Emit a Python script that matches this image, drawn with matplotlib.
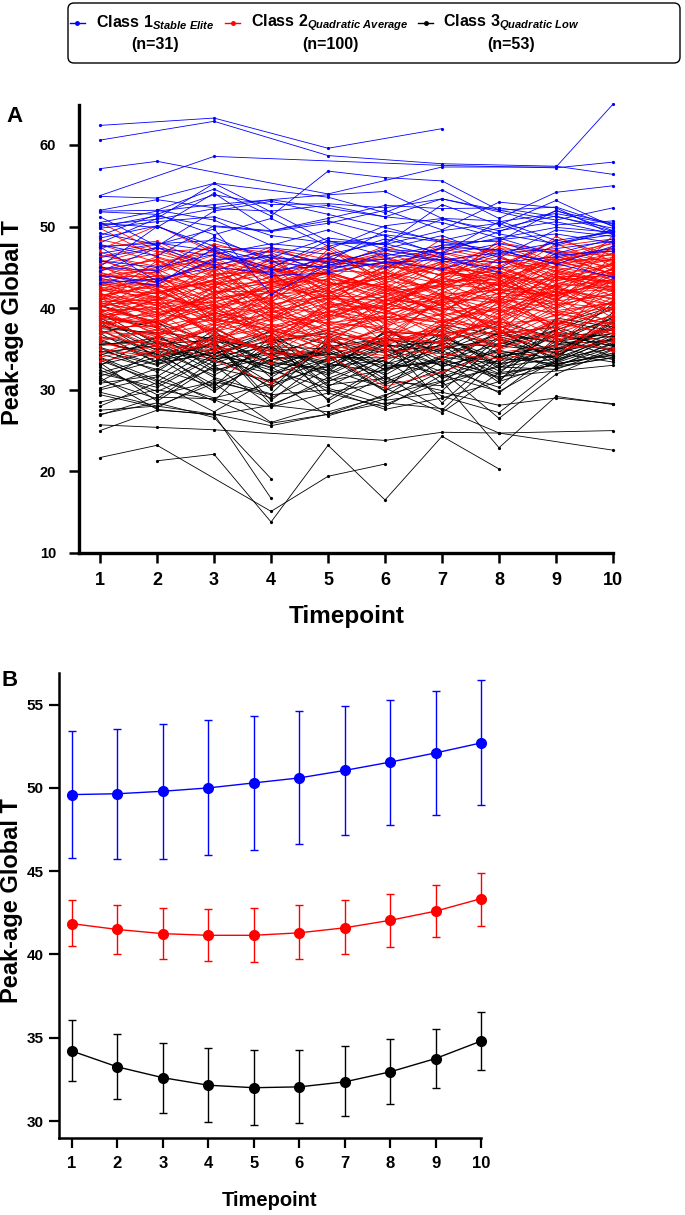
import numpy as np
import matplotlib
matplotlib.use('Agg')
import matplotlib.pyplot as plt
from matplotlib import font_manager
from matplotlib.lines import Line2D
from matplotlib.patches import FancyBboxPatch

# ---- data ----
timepoints = np.arange(1, 11)
class_names = ['Class 1', 'Class 2', 'Class 3']
class_tags = ['Stable\\ Elite', 'Quadratic\\ Average', 'Quadratic\\ Low']
class_n = [31, 100, 53]
class_colors = ['#0000ff', '#ff0000', '#000000']

# individual trajectories (None = missed visit)
class1_subjects = [
    [62.4, None, 63.3, None, 59.6, None, 62.0, None, None, None],
    [60.6, None, 62.9, None, 58.7, None, 57.7, None, 57.4, 56.4],
    [57.1, 58.0, None, None, 54.0, None, 57.3, None, 57.3, 65.0],
    [53.8, None, 58.6, None, None, None, 57.5, None, 57.2, 57.9],
    [53.7, 53.5, 55.3, None, 53.6, 51.7, 54.5, 51.0, 54.2, 55.0],
    [51.9, 52.0, 54.6, 51.3, 56.8, 56.0, 55.6, 52.0, 50.8, 52.3],
    [51.8, 51.5, 53.9, 52.7, 52.8, 52.3, 53.4, 52.0, 52.4, 50.1],
    [50.5, 51.9, 52.7, 53.3, 53.9, 54.3, 51.0, 49.1, 47.9, 49.6],
    [50.2, 50.9, 52.2, 51.9, 52.6, 51.2, 50.5, 48.6, 49.9, 49.3],
    [50.0, 51.3, 50.0, 49.4, 50.4, 52.0, 49.6, 53.0, 52.3, 49.0],
    [49.8, 50.6, 51.2, 48.9, 48.0, 47.8, 49.5, 50.4, 47.7, 49.5],
    [49.2, 47.8, 49.7, 41.7, 45.3, 46.0, None, 48.6, 46.5, 47.0],
    [48.9, 51.5, 49.0, 51.0, 47.6, 49.0, 48.1, 47.1, None, 43.8],
    [48.6, 50.1, 47.1, 47.4, 46.6, 48.1, 50.9, 49.5, 50.6, 49.1],
    [47.8, 46.4, 50.1, 49.5, 50.7, 48.9, 46.5, 47.9, 46.7, 48.5],
    [47.5, 48.0, 47.0, 44.9, 48.3, 46.4, 47.7, 48.4, 49.1, 48.0],
    [47.5, 43.3, 45.8, 47.0, 45.5, 47.1, 45.9, 46.8, 48.0, 49.0],
    [46.7, 47.9, 48.3, 46.2, 45.7, 49.5, 48.3, None, 51.3, 49.4],
    [46.2, 47.4, 46.4, 44.7, 45.2, 47.3, 48.9, 46.2, 49.6, 48.8],
    [45.8, 45.0, 46.6, 47.9, 47.2, 50.1, 51.0, 50.7, 48.3, None],
    [45.0, 44.6, 48.7, 45.7, 46.1, 45.0, 47.5, 47.1, 45.4, 47.6],
    [44.5, 47.4, 45.3, 46.5, 44.6, 46.7, 45.8, 44.9, 48.3, 49.3],
    [44.0, 43.2, 46.0, 46.2, 48.6, 47.8, 52.7, 50.2, 53.2, 50.0],
    [43.1, 43.6, 45.0, 44.3, 46.2, 48.5, 46.7, 49.4, 51.9, 50.4],
    [43.6, 42.8, 47.4, 45.6, 45.0, None, 46.0, 45.6, 46.3, 47.3],
    [52.0, 53.3, 52.3, 53.3, None, 51.2, 53.4, None, 50.2, 50.7],
    [50.4, 49.9, 54.1, 49.5, 51.0, 52.6, 52.2, 52.3, 51.2, 49.8],
    [48.0, 51.0, 55.3, 51.8, 48.2, 47.9, 46.2, 44.4, None, None],
    [45.1, 50.0, 47.6, 44.0, 44.3, 45.7, 44.8, 46.7, 47.3, 48.2],
    [None, 52.0, 50.8, 47.7, 49.6, 47.2, 46.8, 50.6, 51.6, 50.3],
    [51.2, 47.6, 51.9, 53.1, 51.5, 49.9, 48.1, 48.2, 52.0, 49.5],
]

class2_subjects = [
    [50.5, 47.0, 45.2, 44.1, 46.3, 43.8, 45.0, 44.2, 46.1, 47.4],
    [49.8, 46.2, 43.9, 45.5, 42.7, 44.9, 47.3, 45.8, 44.6, 46.0],
    [47.2, 50.1, 46.8, 44.0, 45.6, 46.4, 43.9, 47.7, 45.3, 48.1],
    [46.5, 45.1, 47.6, 46.8, 44.2, 42.5, 45.8, 43.6, 47.9, 45.2],
    [45.8, 44.0, 42.6, 47.3, 46.0, 45.2, 44.1, 46.5, 43.0, 44.7],
    [45.4, 46.7, 44.9, 42.8, 43.5, 47.1, 46.2, 44.8, 46.6, 47.9],
    [45.0, 43.2, 45.7, 44.4, 47.5, 43.3, 42.6, 45.1, 48.4, 46.5],
    [44.7, 45.9, 43.1, 45.9, 41.8, 44.6, 47.8, 46.9, 45.0, 43.9],
    [44.3, 42.4, 46.2, 43.0, 45.3, 46.8, 44.5, 42.9, 44.2, 46.8],
    [44.0, 44.8, 41.5, 46.2, 44.0, 41.9, 45.6, 47.3, 46.9, 45.6],
    [43.8, 46.3, 44.4, 41.6, 46.8, 45.5, 43.2, 44.0, 42.7, 44.4],
    [43.5, 41.7, 43.5, 45.1, 42.9, 43.6, 46.9, 45.5, 47.6, 48.5],
    [43.2, 44.5, 47.1, 43.7, 41.4, 44.0, 42.2, 46.1, 44.9, 43.1],
    [43.0, 42.9, 40.8, 42.5, 44.8, 46.1, 44.7, 43.3, 45.8, 47.2],
    [42.8, 45.4, 42.9, 44.7, 43.3, 40.9, 43.8, 44.6, 41.9, 42.3],
    [42.6, 40.9, 44.1, 40.7, 45.9, 42.8, 41.1, 42.4, 46.3, 45.0],
    [42.4, 43.6, 39.7, 43.5, 40.6, 45.3, 46.5, 43.9, 43.4, 44.1],
    [42.2, 41.3, 45.3, 39.8, 43.7, 41.7, 42.9, 48.3, 45.5, 46.2],
    [42.0, 44.1, 42.0, 42.1, 39.9, 43.1, 40.4, 41.8, 44.0, 41.5],
    [41.8, 39.8, 43.6, 44.9, 42.2, 39.8, 44.3, 45.0, 42.6, 43.5],
    [41.6, 42.7, 40.3, 41.2, 44.5, 42.2, 39.6, 43.4, 41.3, 44.9],
    [41.5, 38.9, 41.8, 43.3, 41.0, 44.4, 43.0, 40.7, 43.8, 42.0],
    [41.3, 43.0, 44.8, 40.2, 42.6, 40.5, 41.9, 44.3, 40.8, 46.3],
    [41.1, 40.4, 38.6, 42.3, 38.8, 41.6, 45.2, 42.1, 44.7, 43.0],
    [41.0, 45.8, 42.3, 38.9, 41.9, 43.9, 40.2, 39.6, 42.3, 41.1],
    [40.8, 41.0, 43.0, 44.2, 40.3, 38.7, 42.4, 43.7, 45.7, 44.3],
    [40.6, 39.5, 40.0, 41.4, 43.0, 42.9, 38.9, 41.2, 39.9, 42.8],
    [40.5, 42.2, 39.1, 37.8, 39.5, 40.2, 43.6, 42.8, 41.6, 40.4],
    [40.3, 37.8, 42.7, 40.5, 41.5, 41.3, 40.0, 38.9, 43.5, 45.4],
    [40.2, 41.5, 37.9, 39.3, 37.4, 39.6, 41.4, 40.6, 42.0, 39.7],
    [40.0, 43.8, 41.1, 42.6, 43.9, 37.9, 39.3, 44.6, 38.9, 43.7],
    [39.9, 38.4, 40.5, 36.9, 40.0, 42.0, 37.8, 41.5, 40.4, 41.8],
    [39.7, 40.1, 36.8, 41.8, 38.5, 40.8, 42.7, 37.9, 42.8, 38.8],
    [39.6, 36.9, 39.4, 38.4, 42.3, 36.8, 40.8, 43.1, 41.1, 44.0],
    [39.4, 42.5, 38.2, 40.0, 36.6, 41.1, 38.3, 39.9, 37.8, 40.9],
    [39.3, 39.0, 41.9, 35.8, 39.2, 38.4, 41.8, 36.8, 43.9, 42.5],
    [39.1, 37.3, 35.9, 38.7, 41.1, 35.7, 37.2, 40.2, 39.5, 37.9],
    [39.0, 40.8, 38.8, 37.2, 35.8, 40.0, 39.8, 42.4, 36.9, 39.2],
    [38.8, 35.9, 37.4, 39.6, 38.1, 37.6, 36.5, 38.4, 40.9, 41.6],
    [38.7, 38.2, 40.2, 36.3, 37.0, 39.2, 41.0, 35.9, 38.3, 36.8],
    [38.5, 41.2, 36.6, 34.9, 39.8, 36.9, 35.7, 39.4, 41.7, 43.2],
    [38.3, 36.5, 39.8, 37.9, 34.7, 38.0, 40.5, 37.3, 36.5, 38.4],
    [38.1, 39.6, 35.3, 40.8, 37.7, 35.4, 38.1, 41.3, 39.1, 40.1],
    [37.9, 35.2, 38.0, 36.0, 40.5, 39.9, 36.3, 38.8, 35.9, 37.4],
    [37.7, 37.8, 34.6, 38.1, 36.2, 36.3, 39.4, 36.4, 40.2, 42.2],
    [37.5, 40.0, 37.0, 34.3, 38.4, 37.3, 34.9, 40.9, 37.4, 39.0],
    [37.3, 34.6, 36.2, 39.2, 35.3, 34.9, 37.9, 35.5, 38.7, 36.3],
    [37.0, 36.8, 38.9, 35.5, 37.4, 38.8, 40.1, 37.8, 35.6, 41.0],
    [36.8, 38.7, 35.0, 37.5, 34.8, 36.4, 35.8, 39.0, 41.2, 38.0],
    [36.5, 35.5, 37.7, 33.9, 36.7, 34.5, 38.6, 34.9, 37.1, 35.8],
    [36.2, 37.4, 34.1, 36.6, 39.3, 37.6, 33.8, 36.7, 39.7, 40.6],
    [35.8, 34.1, 36.5, 34.7, 33.9, 35.9, 36.8, 38.1, 36.2, 37.5],
    [35.4, 36.0, 33.6, 30.8, 35.6, 33.8, 35.3, 35.7, 38.2, 36.9],
    [35.0, 34.0, 35.8, 37.0, 34.2, 30.4, 32.2, 34.6, 35.4, 35.1],
    [34.5, 36.6, 35.2, 33.3, 36.0, 35.0, 34.4, 33.8, 34.8, 36.0],
    [34.0, 35.4, 34.8, 35.9, 33.5, 36.6, 37.4, 35.2, 36.8, 34.7],
    [33.5, 34.8, 37.6, 34.1, 35.0, 34.2, 36.1, 37.2, 34.2, 38.6],
    [46.0, 43.4, 45.5, 42.3, 44.6, 44.3, 41.3, 43.0, 45.2, 46.7],
    [45.6, 47.5, 44.0, 46.0, 42.0, 45.8, 44.0, 45.9, 43.3, 45.3],
    [45.2, 42.0, 43.3, 41.0, 47.2, 43.0, 46.4, 42.2, 46.8, 44.0],
    [44.9, 44.3, 46.5, 44.9, 43.2, 41.4, 43.5, 47.4, 44.4, 42.9],
    [44.6, 46.0, 41.9, 43.8, 45.1, 46.3, 42.8, 44.4, 41.4, 47.7],
    [44.2, 41.0, 44.6, 46.6, 40.9, 43.4, 45.4, 41.6, 46.0, 45.9],
    [43.9, 43.9, 40.4, 42.0, 44.4, 42.4, 40.8, 46.2, 43.7, 43.3],
    [43.6, 45.0, 45.9, 40.3, 42.5, 45.0, 44.9, 42.7, 47.2, 44.6],
    [43.3, 40.3, 42.4, 45.3, 39.7, 40.4, 43.1, 45.3, 42.2, 48.9],
    [43.0, 42.3, 39.3, 43.1, 46.2, 44.8, 41.6, 39.7, 44.6, 42.6],
    [42.7, 44.0, 43.8, 39.5, 41.3, 39.3, 44.4, 43.8, 40.3, 44.5],
    [42.5, 39.4, 41.3, 41.9, 43.6, 42.6, 39.1, 41.0, 45.1, 46.0],
    [42.3, 41.8, 44.2, 44.5, 38.9, 41.0, 42.9, 44.9, 42.4, 41.2],
    [42.1, 43.2, 38.5, 40.9, 42.8, 43.7, 45.7, 40.4, 43.9, 43.8],
    [41.9, 38.6, 42.8, 38.3, 40.7, 38.2, 40.6, 42.9, 41.0, 45.0],
    [41.7, 40.6, 40.7, 42.9, 44.2, 40.7, 38.4, 40.1, 44.3, 42.1],
    [41.5, 42.9, 39.0, 40.1, 39.4, 42.3, 43.3, 43.5, 39.4, 40.7],
    [41.3, 37.6, 41.6, 43.9, 41.7, 44.5, 41.5, 38.6, 42.9, 44.8],
    [41.1, 41.9, 43.4, 39.0, 38.2, 39.0, 37.6, 42.0, 40.7, 39.9],
    [40.9, 44.6, 38.3, 41.7, 42.1, 37.5, 42.0, 40.8, 46.1, 43.4],
    [40.7, 39.2, 40.9, 37.4, 40.2, 41.9, 39.5, 38.2, 38.6, 41.9],
    [40.5, 40.7, 37.3, 42.4, 37.9, 40.3, 43.8, 41.7, 42.5, 40.3],
    [40.3, 38.1, 42.1, 38.5, 43.4, 38.6, 38.7, 37.4, 41.8, 45.6],
    [40.1, 42.0, 39.6, 36.4, 39.0, 42.7, 40.3, 44.2, 39.7, 38.5],
    [39.9, 36.7, 38.1, 40.4, 36.9, 36.2, 41.2, 39.3, 43.0, 42.4],
    [39.7, 39.9, 41.4, 39.9, 41.6, 39.7, 37.0, 36.9, 37.6, 40.0],
    [39.5, 41.4, 36.3, 37.7, 38.6, 41.5, 39.7, 42.5, 40.0, 44.2],
    [39.2, 37.7, 39.2, 41.0, 35.9, 37.2, 36.7, 38.5, 42.1, 39.4],
    [39.0, 38.0, 40.3, 35.6, 40.8, 39.4, 38.2, 40.5, 38.0, 41.3],
    [38.7, 40.4, 37.1, 38.9, 37.2, 35.6, 41.6, 37.0, 40.6, 37.2],
    [38.4, 36.2, 39.5, 37.1, 39.6, 38.6, 35.4, 39.8, 36.4, 43.6],
    [38.1, 38.6, 35.6, 39.9, 35.5, 40.6, 39.0, 36.1, 39.3, 38.1],
    [37.8, 39.3, 38.4, 36.2, 38.0, 36.0, 37.3, 41.1, 37.9, 40.8],
    [47.8, 45.6, 46.9, 45.0, 47.7, 44.1, 48.5, 46.6, 45.9, 47.0],
    [47.5, 48.2, 45.0, 47.5, 44.9, 47.6, 45.5, 43.7, 48.8, 45.7],
    [46.9, 44.4, 47.9, 46.1, 45.8, 46.0, 44.6, 48.0, 47.0, 46.4],
    [48.4, 46.9, 47.3, 43.4, 46.6, 45.6, 46.8, 44.9, 45.6, 48.3],
    [46.3, 47.8, 44.5, 47.2, 45.4, 43.6, 47.5, 46.3, 44.0, 45.5],
    [None, 43.7, 42.0, None, 44.3, 42.1, None, 43.2, 46.4, 44.2],
    [42.9, None, 39.9, 42.7, None, 40.0, 41.7, None, 42.7, 40.6],
    [38.9, 41.1, None, 39.4, 41.2, None, 40.7, 41.4, None, 42.7],
    [36.0, None, 38.6, None, 36.4, 38.9, None, 37.6, 39.1, None],
    [44.4, 42.6, None, 43.2, None, 45.7, 43.0, None, 41.5, 43.6],
]

class3_subjects = [
    [21.7, 23.2, None, 15.1, 19.4, 20.9, None, None, None, None],
    [None, 21.3, 22.1, 13.8, 23.2, 16.5, 24.3, 20.3, None, None],
    [25.7, 25.4, 25.1, None, None, 23.8, 24.8, 24.7, None, 25.0],
    [25.0, 27.5, 27.0, 16.7, None, None, None, None, None, None],
    [27.0, 28.4, 26.6, 19.1, None, None, None, None, None, None],
    [28.5, 30.0, 28.8, 25.9, 27.0, 29.4, 31.1, 22.9, 29.2, 28.2],
    [29.7, 28.0, 27.0, 25.6, None, 28.4, 27.7, 24.7, None, 22.6],
    [31.5, 27.6, 26.9, 28.1, 27.3, 29.2, 33.6, 31.9, 33.1, 34.5],
    [32.8, 29.4, 31.0, 29.4, 30.0, 27.6, 29.0, 31.0, 33.3, 35.6],
    [33.3, 28.6, 33.0, 28.0, 31.5, 28.7, 29.7, 28.1, 29.0, 28.3],
    [34.0, 31.2, 29.0, 30.7, 32.9, 33.6, 29.2, 27.2, 32.7, 34.0],
    [35.2, 33.1, 34.6, 32.4, 30.2, 28.2, 31.0, 32.8, 33.8, 35.1],
    [35.8, 34.4, 30.6, 33.8, 34.6, 32.9, 33.3, 31.5, 33.5, 36.2],
    [36.5, 35.0, 33.8, 34.5, 29.7, 30.9, 34.0, 33.2, 34.2, 37.0],
    [37.3, 34.2, 35.4, 31.9, 33.8, 34.8, 32.2, 34.9, 32.9, 33.9],
    [38.5, 36.0, 34.1, 35.3, 35.0, 31.8, 35.7, 32.3, 35.6, 36.6],
    [39.4, 35.6, 36.1, 33.2, 32.7, 35.6, 30.8, 36.3, 34.0, 38.2],
    [38.0, 34.8, 33.5, 36.3, 34.0, 33.9, 36.4, 33.8, 36.9, 35.3],
    [37.8, 36.8, 32.4, 34.0, 31.8, 35.0, 33.0, 37.2, 33.7, 39.5],
    [36.2, 33.5, 35.0, 30.8, 35.3, 36.3, 34.8, 32.0, 37.5, 34.7],
    [35.1, 32.2, 36.8, 34.9, 33.2, 32.1, 37.3, 35.4, 34.6, 36.0],
    [34.6, 35.4, 31.5, 29.5, 36.0, 34.5, 31.6, 34.1, 35.0, 37.8],
    [33.9, 30.6, 34.3, 32.8, 28.9, 33.1, 35.1, 36.2, 33.2, 34.2],
    [33.1, 34.7, 30.1, 33.7, 34.3, 29.9, 32.6, 30.3, 36.4, 38.7],
    [32.4, 29.8, 32.7, 31.1, 33.7, 36.0, 28.4, 34.5, 32.8, 35.8],
    [31.7, 33.6, 35.8, 28.2, 31.0, 34.1, 36.8, 32.6, 37.0, 36.5],
    [30.8, 31.8, 28.6, 35.8, 30.6, 31.4, 29.9, 35.8, 34.5, 33.4],
    [39.0, 37.6, 34.9, 37.1, 32.2, 37.2, 34.4, 33.4, 38.0, 40.2],
    [38.8, 35.2, 37.5, 34.2, 36.6, 33.0, 38.0, 36.7, 35.9, 36.9],
    [37.0, 38.4, 33.2, 35.7, 37.3, 35.3, 35.9, 37.9, 34.4, 39.0],
    [36.0, 34.0, 36.7, 33.0, 34.9, 37.7, 32.8, 35.0, 38.5, 37.2],
    [35.5, 36.3, 34.4, 36.7, 31.4, 34.0, 37.8, 34.4, 35.3, 40.6],
    [34.8, 33.0, 37.3, 31.5, 35.7, 30.6, 33.9, 36.9, 37.7, 35.5],
    [34.3, 35.8, 32.2, 35.0, 33.4, 36.9, 31.4, 33.6, 34.1, 38.4],
    [33.6, 31.0, 35.1, 30.1, 36.4, 32.4, 36.2, 31.2, 36.0, 34.8],
    [32.1, 34.0, 29.8, 34.3, 32.0, 35.5, 34.7, 37.5, 33.4, 36.3],
    [31.2, 28.9, 33.6, 32.0, 34.8, 31.0, 30.5, 33.0, 35.2, 33.7],
    [30.2, 32.6, 30.4, 36.5, 28.6, 32.7, 33.5, 29.6, 34.8, 37.4],
    [29.4, 27.8, 31.3, 29.0, 32.5, 30.2, 27.2, 32.1, 33.0, 35.2],
    [28.0, 30.9, 27.3, 31.4, 26.8, 28.9, 32.3, 26.5, 31.9, 34.9],
    [26.9, 29.1, 28.9, 27.9, 29.6, 27.9, 31.8, 29.8, 33.6, 36.7],
    [38.3, 33.9, 35.6, 32.6, 35.4, 32.5, 34.9, 38.4, 36.3, 34.1],
    [37.5, 37.0, 36.3, 34.7, 33.0, 36.4, 33.6, 35.6, 37.3, 39.9],
    [36.9, 33.3, 34.5, 36.0, 36.9, 34.7, 35.4, 34.0, 35.5, 36.1],
    [35.6, 35.9, 32.9, 34.4, 34.4, 33.4, 31.9, 36.5, 34.9, 37.6],
    [34.4, 32.5, 36.4, 33.4, 32.4, 37.1, 36.6, 33.1, 36.7, 35.4],
    [33.0, 36.5, 33.9, 37.3, 35.5, 31.3, 34.2, 37.0, 35.8, 38.9],
    [32.0, 30.3, 34.0, 30.4, 33.1, 35.8, 32.9, 34.7, 33.9, 36.4],
    [31.0, 34.8, 31.8, 35.4, 30.4, 33.7, 35.5, 30.9, 38.8, 37.7],
    [30.0, 31.6, 36.0, 28.7, 34.0, 29.8, 37.0, 32.8, 32.5, 35.0],
    [27.5, 28.0, 30.8, 26.0, 28.1, 31.7, 27.5, 33.9, 33.2, 34.3],
    [None, 35.1, None, 33.1, 31.1, None, 33.8, 31.6, None, 33.0],
    [40.4, None, 35.9, None, 34.3, 36.1, None, 35.3, 37.2, None],
]

# estimated class trajectories with error bars
class1_mean = [49.6, 49.65, 49.8, 50.0, 50.3, 50.6, 51.05, 51.55, 52.1, 52.7]
class1_upper = [53.4, 53.55, 53.85, 54.1, 54.3, 54.6, 54.9, 55.3, 55.8, 56.5]
class1_lower = [45.8, 45.75, 45.75, 45.95, 46.25, 46.65, 47.2, 47.8, 48.4, 48.95]
class2_mean = [41.85, 41.5, 41.25, 41.15, 41.15, 41.3, 41.6, 42.05, 42.6, 43.35]
class2_upper = [43.25, 42.95, 42.8, 42.75, 42.8, 43.0, 43.25, 43.65, 44.2, 44.9]
class2_lower = [40.5, 40.05, 39.75, 39.6, 39.55, 39.7, 40.0, 40.45, 41.05, 41.7]
class3_mean = [34.2, 33.25, 32.6, 32.15, 32.0, 32.05, 32.35, 32.95, 33.75, 34.8]
class3_upper = [36.05, 35.25, 34.7, 34.4, 34.25, 34.25, 34.5, 34.9, 35.5, 36.55]
class3_lower = [32.4, 31.3, 30.5, 29.95, 29.75, 29.9, 30.3, 31.05, 32.0, 33.05]

# ---- fonts ----
avail = {f.name for f in font_manager.fontManager.ttflist}
narrow = 'Liberation Sans Narrow' if 'Liberation Sans Narrow' in avail else 'Liberation Sans'
plt.rcParams['font.family'] = [narrow, 'DejaVu Sans']
plt.rcParams['font.weight'] = 'bold'
plt.rcParams['mathtext.fontset'] = 'custom'
plt.rcParams['mathtext.it'] = 'Liberation Sans:italic:bold'
plt.rcParams['mathtext.rm'] = 'Liberation Sans:bold'

W, H = 685, 1215
fig = plt.figure(figsize=(W / 100, H / 100), dpi=100)
inch = fig.dpi_scale_trans


def px(x, y):
    return x / 100, (H - y) / 100


def axes_px(left, top, right, bottom):
    return fig.add_axes([left / W, 1 - bottom / H, (right - left) / W, (bottom - top) / H])


def style_axis(ax, spine_w, tick_len, tick_w):
    for s in ['top', 'right']:
        ax.spines[s].set_visible(False)
    for s in ['left', 'bottom']:
        ax.spines[s].set_linewidth(spine_w)
    ax.tick_params(direction='out', length=tick_len, width=tick_w, color='black')


# ---- panel A: individual trajectories ----
ax_a = axes_px(79, 105, 613, 553)
groups = [class1_subjects, class2_subjects, class3_subjects]
for idx in [2, 1, 0]:
    for row in groups[idx]:
        vals = np.array(row, dtype=float)
        ok = np.isfinite(vals)
        ax_a.plot(timepoints[ok], vals[ok], color=class_colors[idx], lw=0.6,
                  marker='o', ms=2.3, mew=0, clip_on=False)
ax_a.set_xlim(0.63, 10)
ax_a.set_ylim(10, 64.9)
ax_a.set_xticks(timepoints)
ax_a.set_yticks(np.arange(10, 61, 10))
style_axis(ax_a, 2.4, 7.5, 1.8)
ax_a.tick_params(axis='x', labelsize=13, pad=6)
ax_a.tick_params(axis='y', labelsize=10.5, pad=9)

# ---- panel B: class means ----
ax_b = axes_px(59, 673, 481, 1138)
means = [class1_mean, class2_mean, class3_mean]
uppers = [class1_upper, class2_upper, class3_upper]
lowers = [class1_lower, class2_lower, class3_lower]
for idx in range(3):
    m = np.array(means[idx])
    err = [m - np.array(lowers[idx]), np.array(uppers[idx]) - m]
    ax_b.errorbar(timepoints, m, yerr=err, color=class_colors[idx], lw=1.0,
                  elinewidth=1.0, capsize=3, capthick=1.0, marker='o', ms=7,
                  clip_on=False)
ax_b.set_xlim(0.714, 10)
ax_b.set_ylim(28.98, 56.9)
ax_b.set_xticks(timepoints)
ax_b.set_yticks(np.arange(30, 56, 5))
style_axis(ax_b, 1.8, 7, 1.6)
ax_b.tick_params(axis='x', labelsize=12, pad=6)
ax_b.tick_params(axis='y', labelsize=11, pad=4)

# ---- axis labels & panel letters ----
fig.text(*px(347, 616), 'Timepoint', transform=inch, ha='center', va='center', fontsize=17.5)
fig.text(*px(270, 1200), 'Timepoint', transform=inch, ha='center', va='center', fontsize=14.5)
fig.text(*px(13, 323), 'Peak-age Global T', transform=inch, ha='center', va='center',
         rotation=90, fontsize=17)
fig.text(*px(12, 901), 'Peak-age Global T', transform=inch, ha='center', va='center',
         rotation=90, fontsize=17)
fig.text(*px(14, 116), 'A', transform=inch, ha='center', va='center', fontsize=16,
         family='Liberation Sans')
fig.text(*px(10, 681), 'B', transform=inch, ha='center', va='center', fontsize=16,
         family='Liberation Sans')

# ---- legend box ----
x0, y0 = px(68, 63)
box = FancyBboxPatch((x0, y0), 6.12, 0.60, boxstyle='round,pad=0,rounding_size=0.06',
                     transform=inch, fill=False, ec='black', lw=1.0)
fig.add_artist(box)
handle_x = [70, 225, 418]
text_cx = [155, 330, 511]
for idx in range(3):
    hx0, hy = px(handle_x[idx], 23)
    hx1, _ = px(handle_x[idx] + 15, 23)
    fig.add_artist(Line2D([hx0, (hx0 + hx1) / 2, hx1], [hy, hy, hy], transform=inch,
                          color=class_colors[idx], lw=1.0, marker='o', ms=2.5,
                          markevery=[1]))
    label = class_names[idx] + r'$_{\mathit{' + class_tags[idx] + '}}$'
    fig.text(*px(text_cx[idx], 23), label, transform=inch, ha='center', va='center',
             fontsize=11.5, family='Liberation Sans')
    fig.text(*px(text_cx[idx], 44), '(n=%d)' % class_n[idx], transform=inch,
             ha='center', va='center', fontsize=11.5, family='Liberation Sans')

fig.savefig('out.png', dpi=100)
